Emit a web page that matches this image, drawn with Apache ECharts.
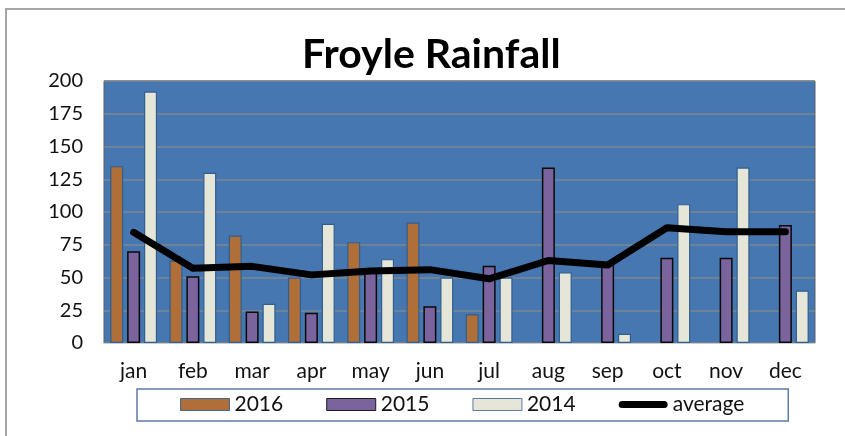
<!DOCTYPE html>
<html>
<head>
<meta charset="utf-8">
<script src="https://cdn.jsdelivr.net/npm/echarts@6/dist/echarts.min.js"></script>
<style>
html,body{margin:0;padding:0;background:#fff;}
#chart{width:845px;height:436px;}
</style>
</head>
<body>
<div id="chart"></div>
<script>
var months = ['jan','feb','mar','apr','may','jun','jul','aug','sep','oct','nov','dec'];
var rain2016 = [135, 63, 82, 50, 77, 92, 22, null, null, null, null, null];
var rain2015 = [70, 51, 24, 23, 56, 28, 59, 134, 60, 65, 65, 90];
var rain2014 = [192, 130, 30, 91, 64, 50, 50, 54, 7, 106, 134, 40];
var average = [84.5, 57, 58.5, 52, 55, 56, 49, 63, 59.5, 88, 85, 85];
var yTicks = [0, 25, 50, 75, 100, 125, 150, 175, 200];

var FONT = 'Lato, "Open Sans", sans-serif';
var lineIcon = 'path://M0,0 M49,12 M3.5,2.5 L45.5,2.5 A3.5,3.5 0 0 1 45.5,9.5 L3.5,9.5 A3.5,3.5 0 0 1 3.5,2.5 Z';
var chart = echarts.init(document.getElementById('chart'), null, {renderer: 'canvas'});
chart.setOption({
  animation: false,
  backgroundColor: '#ffffff',
  title: {
    text: 'Froyle Rainfall',
    left: 297,
    top: 29,
    textStyle: {fontFamily: FONT, fontWeight: 'bold', fontSize: 41, color: '#000'}
  },
  graphic: [{
    type: 'rect',
    shape: {x: 6, y: 9, width: 900, height: 500},
    style: {fill: 'none', stroke: '#a6a6a6', lineWidth: 2},
    silent: true
  }],
  grid: {
    left: 104, right: 30, top: 81, bottom: 93,
    show: true,
    backgroundColor: '#4677b0',
    borderColor: '#56606c',
    borderWidth: 1
  },
  legend: {
    left: 137, top: 389,
    padding: [5, 44, 6, 43],
    itemGap: 43,
    itemWidth: 49, itemHeight: 12,
    borderColor: '#5b7bab', borderWidth: 1.5,
    textStyle: {fontFamily: FONT, fontSize: 21, color: '#111'},
    data: [
      {name: '2016', icon: 'rect', itemStyle: {borderColor: '#3d6790', borderWidth: 1}},
      {name: '2015', icon: 'rect', itemStyle: {borderColor: '#1a1a1a', borderWidth: 1}},
      {name: '2014', icon: 'rect', itemStyle: {borderColor: '#5a7ca6', borderWidth: 1}},
      {name: 'average', icon: lineIcon, itemStyle: {color: '#000', borderWidth: 0}}
    ]
  },
  xAxis: {
    type: 'category',
    data: months,
    axisLine: {show: true, lineStyle: {color: '#c9cdd2', width: 1}},
    axisTick: {show: false},
    axisLabel: {fontFamily: FONT, fontSize: 21, color: '#111', margin: 18}
  },
  yAxis: {
    type: 'value',
    min: yTicks[0], max: yTicks[yTicks.length - 1], interval: 25,
    axisLine: {show: false},
    axisTick: {show: false},
    axisLabel: {fontFamily: FONT, fontSize: 20, color: '#111', margin: 21},
    splitLine: {show: true, lineStyle: {color: '#7d8790', width: 1.5}}
  },
  series: [
    {
      name: '2016', type: 'bar', data: rain2016,
      barWidth: 13, barGap: '30%',
      itemStyle: {color: '#b06e39', borderColor: '#2f5f8f', borderWidth: 1.2}
    },
    {
      name: '2015', type: 'bar', data: rain2015,
      barWidth: 13, barGap: '30%',
      itemStyle: {color: '#7b639e', borderColor: '#0a0a0a', borderWidth: 1.5}
    },
    {
      name: '2014', type: 'bar', data: rain2014,
      barWidth: 13, barGap: '30%',
      itemStyle: {color: '#e6e6d8', borderColor: '#2f5f8f', borderWidth: 1.2}
    },
    {
      name: 'average', type: 'line', data: average,
      symbol: 'none', z: 5,
      lineStyle: {color: '#000', width: 7, cap: 'round', join: 'round'},
      itemStyle: {color: '#000'}
    }
  ]
});
</script>
</body>
</html>
